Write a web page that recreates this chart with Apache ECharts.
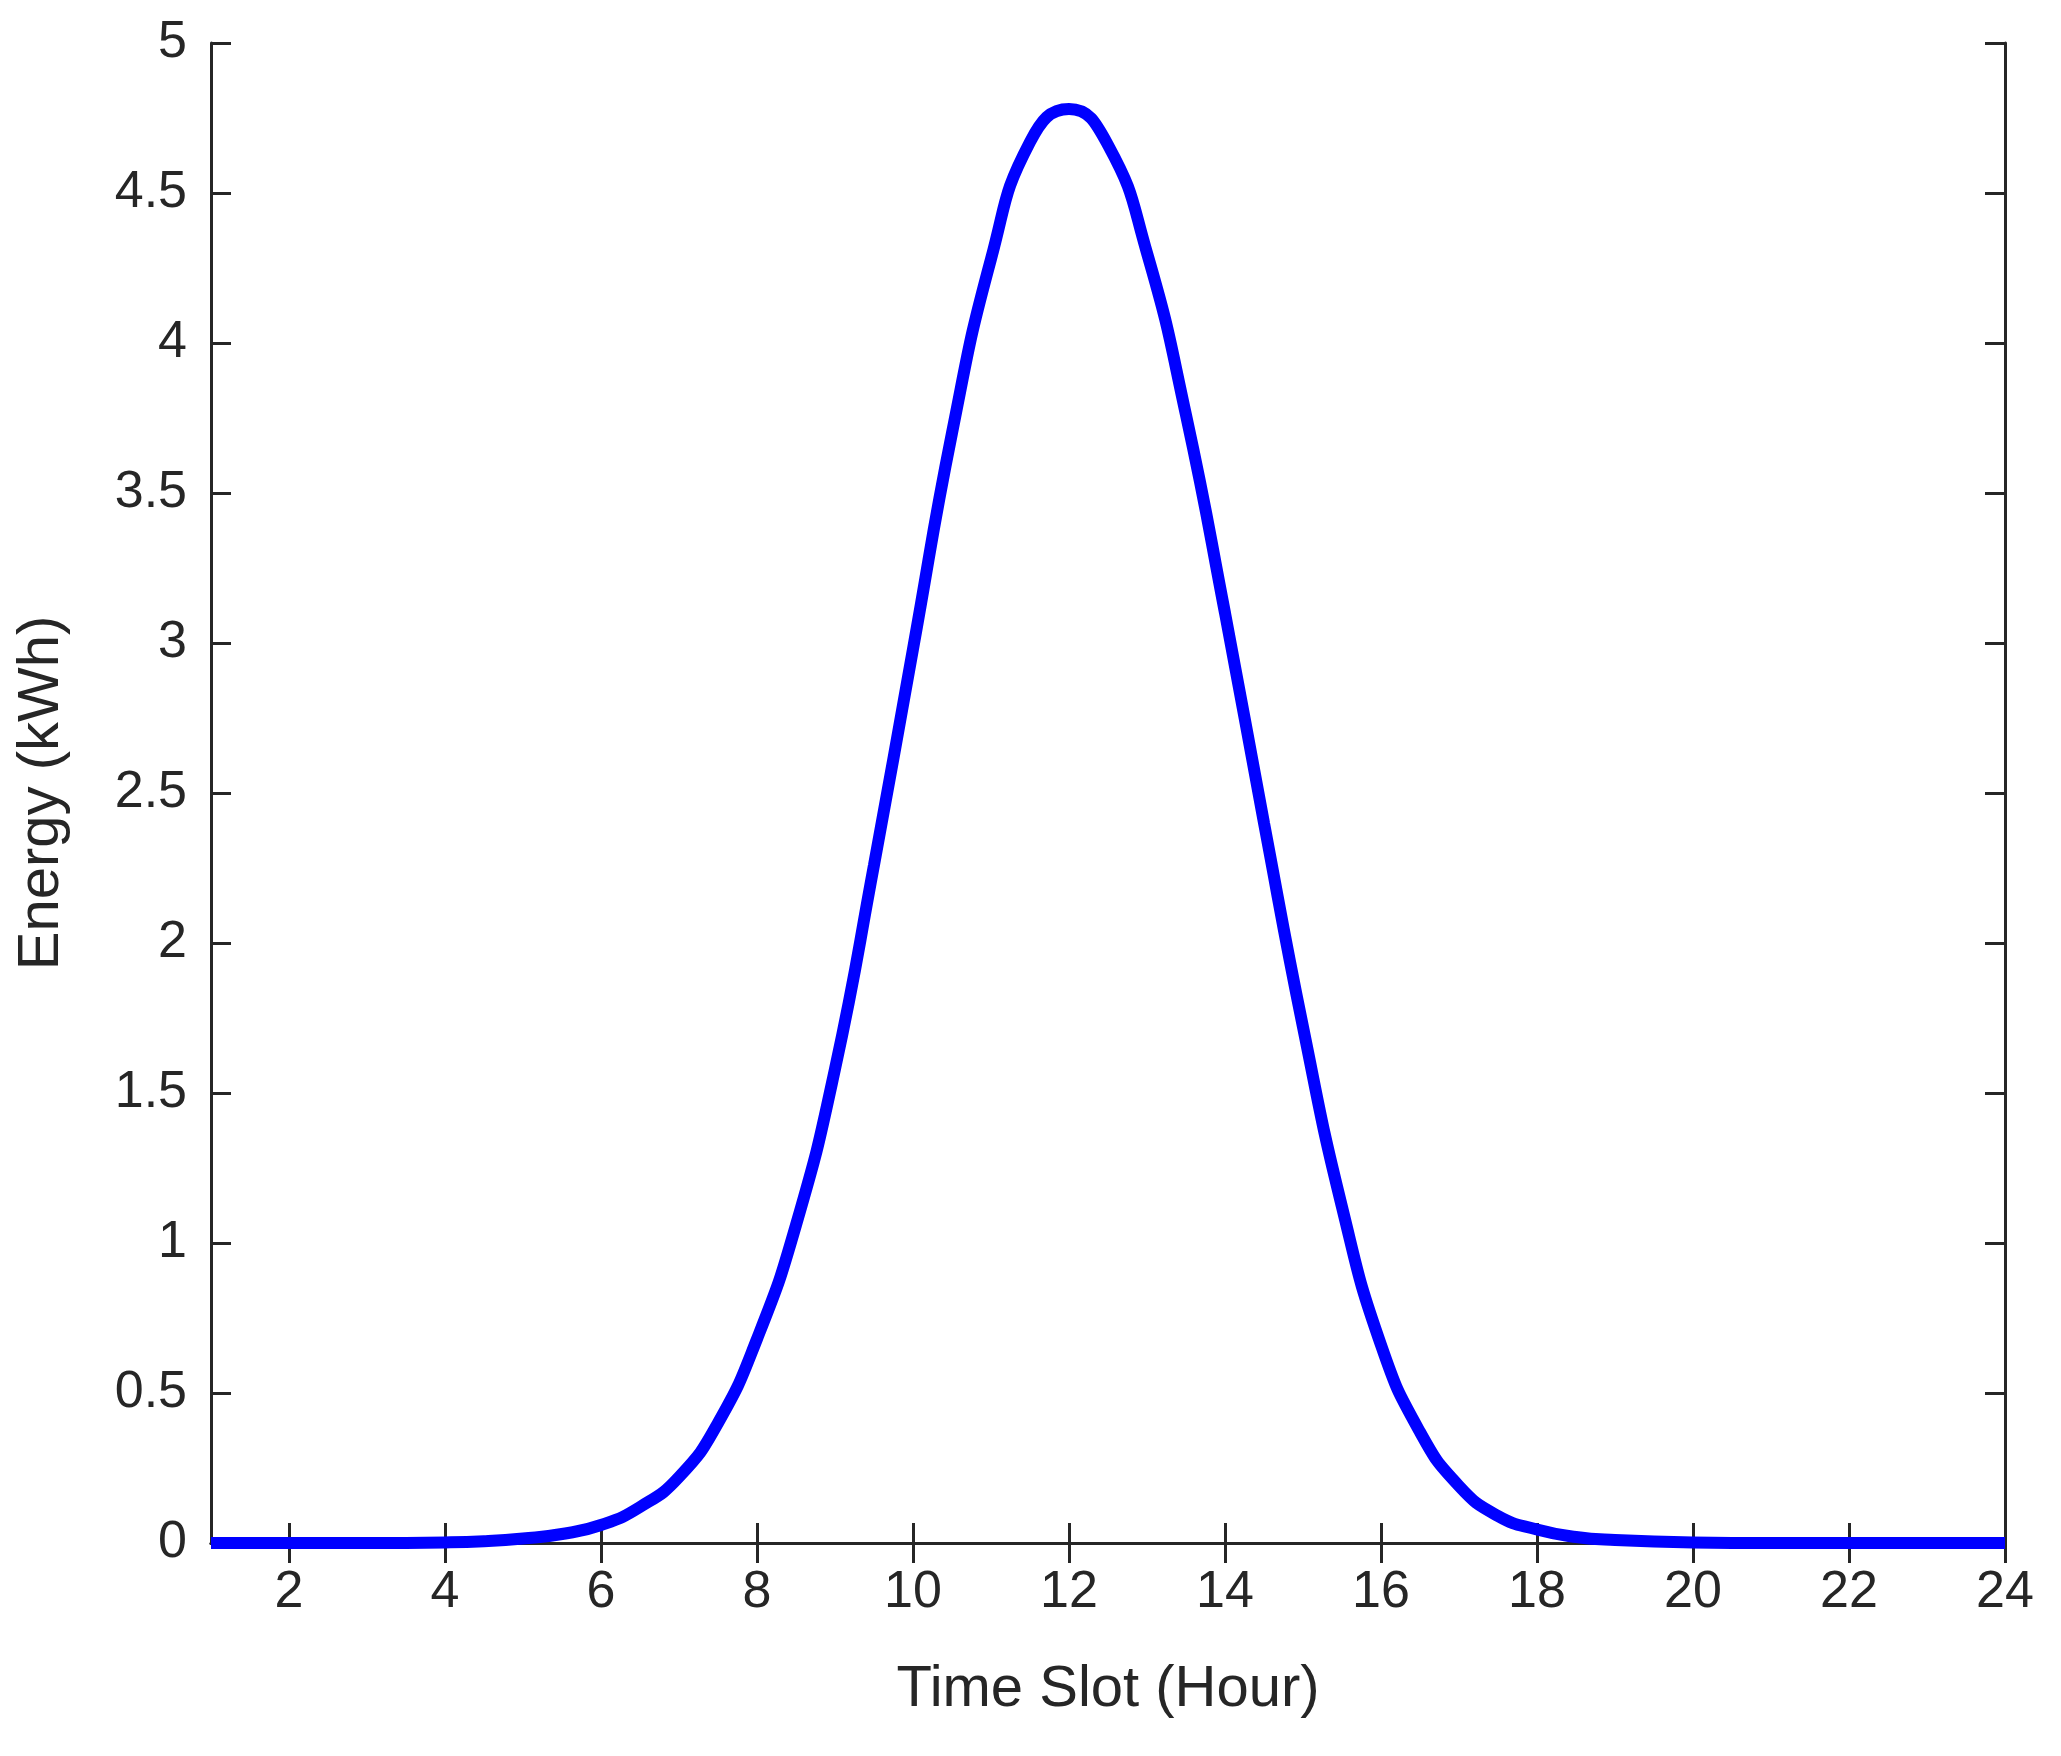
<!DOCTYPE html>
<html lang="en">
<head>
    <meta charset="UTF-8">
    <title>Energy</title>
    <script src="https://cdn.jsdelivr.net/npm/echarts@6/dist/echarts.min.js"></script>
</head>
<body style="margin:0;background:#fff;">
<div id="myChart" style="width:2061px;height:1756px;"></div>
<script type="text/javascript">
    // hours and energy
    var hours = [1, 2, 3, 4, 4.5, 5, 5.5, 6, 6.5, 7, 7.5, 8, 8.5, 9, 9.5, 10, 10.5, 11, 11.5, 12,
        12.5, 13, 13.5, 14, 14.5, 15, 15.5, 16, 16.5, 17, 17.5, 18, 18.5, 19, 20, 21, 22, 23, 24];
    var energy = [0, 0, 0, 0.002, 0.006, 0.015, 0.03, 0.06, 0.12, 0.22, 0.4, 0.68, 1.06, 1.58, 2.26, 2.98,
        3.7, 4.28, 4.67, 4.78, 4.66, 4.3, 3.76, 3.1, 2.4, 1.72, 1.12, 0.66, 0.37, 0.19, 0.09, 0.045, 0.02, 0.01, 0.002, 0, 0, 0, 0];
    var xTicks = [2, 4, 6, 8, 10, 12, 14, 16, 18, 20, 22, 24];

    var axisColor = '#262626';
    var font = 'Liberation Sans, Arial, sans-serif';
    var line = {show: true, lineStyle: {color: axisColor, width: 3}};
    var tick = {show: true, inside: true, length: 20, lineStyle: {color: axisColor, width: 3}};

    var data = [];
    for (var i = 0; i < hours.length; i++) {
        data.push([hours[i], energy[i]]);
    }

    var myChart = echarts.init(document.getElementById('myChart'));
    myChart.setOption({
        animation: false,
        grid: {left: 211, right: 56, top: 43, bottom: 213},
        xAxis: [{
            type: 'value', min: 1, max: 24, position: 'bottom',
            name: 'Time Slot (Hour)', nameLocation: 'middle', nameGap: 118,
            nameTextStyle: {color: axisColor, fontSize: 58, fontFamily: font},
            axisLine: line,
            axisTick: Object.assign({customValues: xTicks}, tick),
            axisLabel: {customValues: xTicks, color: axisColor, fontSize: 52, fontFamily: font, margin: 24},
            splitLine: {show: false}
        }, {
            type: 'value', min: 1, max: 24, position: 'top',
            axisLine: line,
            axisTick: Object.assign({customValues: xTicks}, tick),
            axisLabel: {show: false},
            splitLine: {show: false}
        }],
        yAxis: [{
            type: 'value', min: 0, max: 5, interval: 0.5, position: 'left',
            name: 'Energy (kWh)', nameLocation: 'middle', nameGap: 140,
            nameTextStyle: {color: axisColor, fontSize: 58, fontFamily: font},
            axisLine: line,
            axisTick: tick,
            axisLabel: {color: axisColor, fontSize: 52, fontFamily: font, margin: 24},
            splitLine: {show: false}
        }, {
            type: 'value', min: 0, max: 5, interval: 0.5, position: 'right',
            axisLine: line,
            axisTick: tick,
            axisLabel: {show: false},
            splitLine: {show: false}
        }],
        series: [{
            type: 'line',
            data: data,
            smooth: 0.5,
            showSymbol: false,
            lineStyle: {color: '#0000ff', width: 12}
        }]
    });
</script>
</body>
</html>
